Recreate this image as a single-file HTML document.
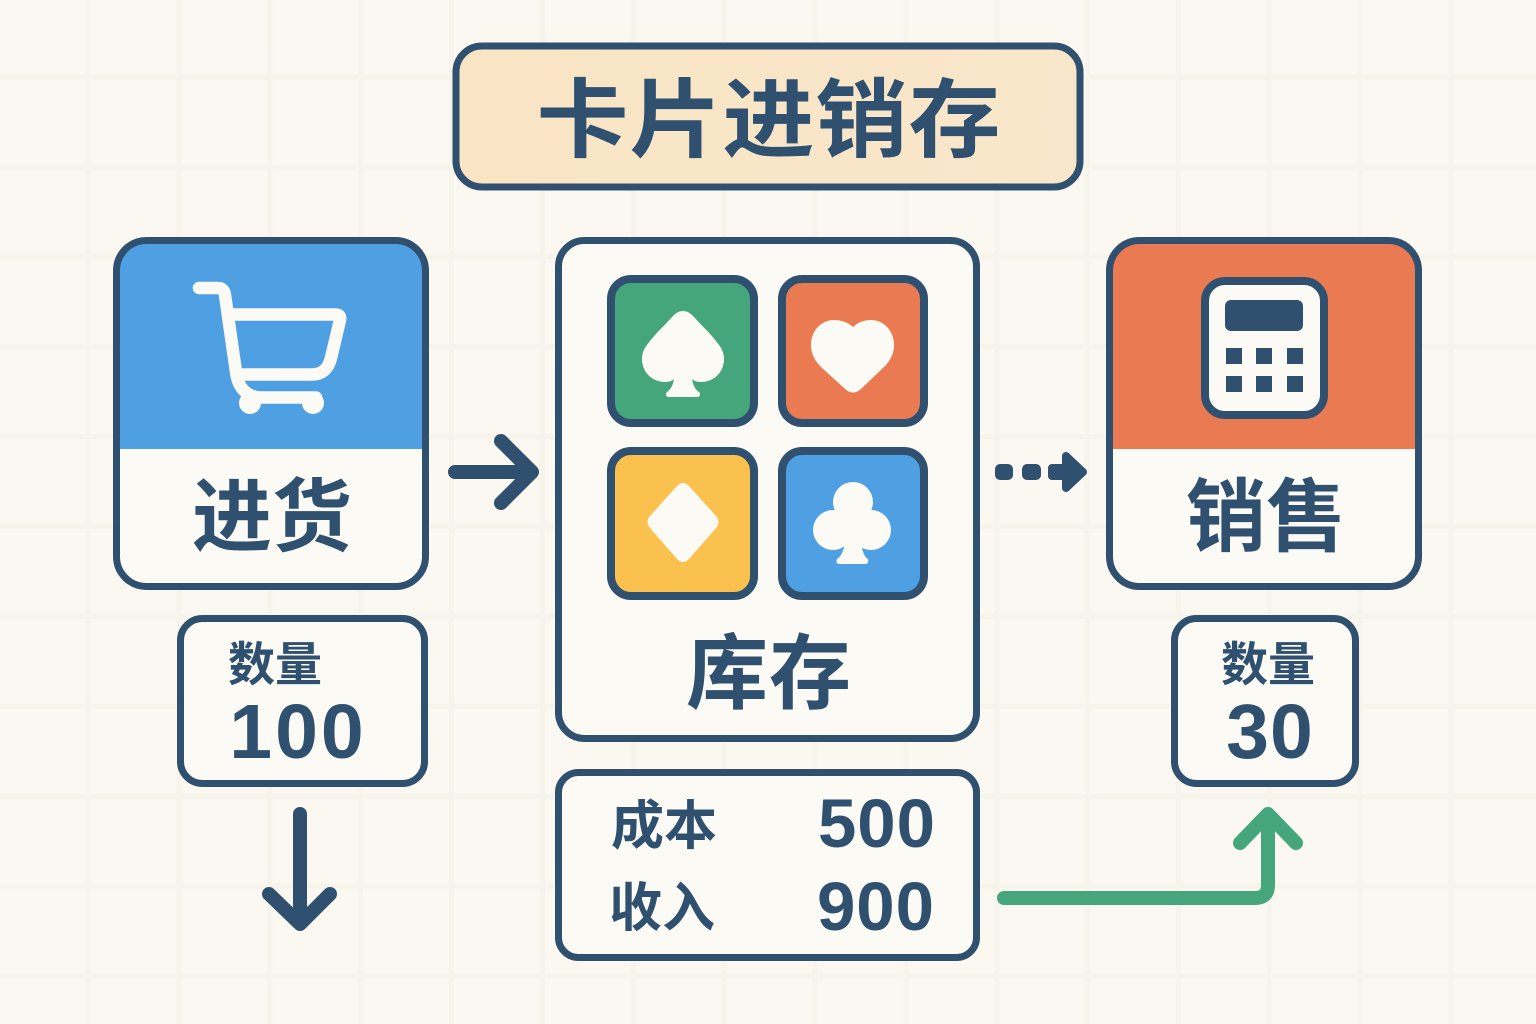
<!DOCTYPE html>
<html lang="zh"><head><meta charset="utf-8"><title>卡片进销存</title>
<style>html,body{margin:0;padding:0;background:#fbf8f1}svg{display:block}
text{font-family:"Liberation Sans","Noto Sans CJK SC",sans-serif;font-weight:700;fill:#30506f;text-anchor:middle}
.n{font-family:"Noto Sans CJK SC","Liberation Sans",sans-serif}</style></head>
<body>
<svg width="1536" height="1024" viewBox="0 0 1536 1024" xmlns="http://www.w3.org/2000/svg">
<defs>
<pattern id="g" x="42.565" y="32.05" width="90.87" height="89.9" patternUnits="userSpaceOnUse">
<path d="M45.435 0V89.9M0 44.95H90.87" stroke="#f7f4eb" stroke-width="5" fill="none"/></pattern>
<linearGradient id="t" x1="0" x2="1" y1="0" y2="0"><stop offset="0" stop-color="#f9e5c4"/><stop offset="1" stop-color="#f9e7cb"/></linearGradient>
<clipPath id="c1"><rect x="116.5" y="240.5" width="309" height="346" rx="30"/></clipPath>
<clipPath id="c2"><rect x="1109.5" y="240.5" width="309" height="346" rx="30"/></clipPath>
</defs>
<rect width="1536" height="1024" fill="#fbf8f1"/>
<rect width="1536" height="1024" fill="url(#g)"/>

<!-- title -->
<rect x="456" y="46" width="624" height="141" rx="26" fill="url(#t)" stroke="#30506f" stroke-width="7"/>
<text class="n" font-size="92" letter-spacing="1" transform="translate(769,150) scale(1,.93)">卡片进销存</text>

<!-- purchase -->
<rect x="116.5" y="240.5" width="309" height="346" rx="30" fill="#fcfaf5"/>
<rect x="113" y="237" width="316" height="212" fill="#4f9fe3" clip-path="url(#c1)"/>
<rect x="116.5" y="240.5" width="309" height="346" rx="30" fill="none" stroke="#30506f" stroke-width="7"/>
<g fill="none" stroke="#fcfaf5" stroke-width="12.500" stroke-linecap="round" stroke-linejoin="round">
<path d="M199 288H218Q224 288 225 295L236 372Q239 395 259 397.500H316"/>
<path d="M229 314.500H336Q341 314.500 340 320L331 358Q327 374.500 312 374.500H238"/>
</g>
<circle cx="250" cy="403" r="11" fill="#fcfaf5"/><circle cx="313" cy="403" r="11" fill="#fcfaf5"/>
<text class="n" x="272" y="545" font-size="80">进货</text>

<rect x="180.500" y="618.500" width="244" height="165" rx="22" fill="#fcfaf5" stroke="#30506f" stroke-width="7"/>
<text class="n" x="275" y="681" font-size="47">数量</text>
<text x="298" y="758" font-size="77" letter-spacing="3">100</text>

<!-- inventory -->
<rect x="558.500" y="240.500" width="418" height="498" rx="26" fill="#fcfaf5" stroke="#30506f" stroke-width="7"/>
<g stroke="#30506f" stroke-width="8">
<rect x="611" y="279" width="143" height="144" rx="20" fill="#45a67c"/>
<rect x="782" y="279" width="142" height="144" rx="20" fill="#e97a52"/>
<rect x="611" y="451" width="143" height="145" rx="20" fill="#fbc14e"/>
<rect x="782" y="451" width="142" height="145" rx="20" fill="#4f9fe3"/>
</g>
<g fill="#fcfaf5">
<path d="M683 311C687 311 690 313 693 316C700 324 710 333 716 341C721 347 724 352 724 359C724 372 714 382 701 382C697 382 694 381 692 379C693 386 696 390 699 392C701 394 700 397 697 397H669C666 397 665 394 667 392C670 390 673 386 674 379C672 381 669 382 665 382C652 382 642 372 642 359C642 352 645 347 650 341C656 333 666 324 673 316C676 313 679 311 683 311Z"/>
<path d="M853 327C858 322 865 320 871 320C884 320 894 331 894 345C894 354 890 361 884 367L862 388C856 394 850 394 844 388L821 367C815 361 811 354 811 345C811 331 821 320 834 320C840 320 848 322 853 327Z"/>
<path d="M677 486Q683 480 689 486L716 516Q721 522 716 528L689 559Q683 565 677 559L650 528Q645 522 650 516Z"/>
<circle cx="853" cy="502" r="20"/><circle cx="833" cy="530" r="20"/><circle cx="871" cy="530" r="20"/>
<path d="M848 510H858L862 548Q864 557 868 559Q869 564 865 564H840Q835 564 837 559Q841 557 844 548Z"/>
</g>
<text class="n" x="769" y="702" font-size="82" letter-spacing="1">库存</text>

<rect x="558.500" y="772.500" width="418" height="185" rx="20" fill="#fcfaf5" stroke="#30506f" stroke-width="7"/>
<text class="n" x="664" y="844" font-size="53">成本</text>
<text x="877" y="847" font-size="69" letter-spacing="1">500</text>
<text class="n" x="662" y="926" font-size="53">收入</text>
<text x="876" y="930" font-size="69" letter-spacing="1">900</text>

<!-- sales -->
<rect x="1109.500" y="240.500" width="309" height="346" rx="30" fill="#fcfaf5"/>
<rect x="1106" y="237" width="316" height="212" fill="#e97a52" clip-path="url(#c2)"/>
<rect x="1109.500" y="240.500" width="309" height="346" rx="30" fill="none" stroke="#30506f" stroke-width="7"/>
<rect x="1205" y="281" width="119" height="134" rx="20" fill="#fcfaf5" stroke="#30506f" stroke-width="8"/>
<rect x="1225" y="300" width="78" height="31" rx="6" fill="#30506f"/>
<g fill="#30506f">
<rect x="1226" y="348" width="16" height="16"/><rect x="1256" y="348" width="16" height="16"/><rect x="1287" y="348" width="16" height="16"/>
<rect x="1226" y="376" width="16" height="16"/><rect x="1256" y="376" width="16" height="16"/><rect x="1287" y="376" width="16" height="16"/>
</g>
<text class="n" x="1266" y="545" font-size="80">销售</text>

<rect x="1174.500" y="618.500" width="181" height="165" rx="22" fill="#fcfaf5" stroke="#30506f" stroke-width="7"/>
<text class="n" x="1268" y="681" font-size="47">数量</text>
<text x="1270" y="758" font-size="77" letter-spacing="1">30</text>

<!-- connectors -->
<g fill="none" stroke-linecap="round" stroke-linejoin="round" stroke-width="14">
<path stroke="#30506f" d="M455 472H530M501 441L532 472L501 503"/>
<path stroke="#30506f" d="M300 814V920M269 894L300 924L330 894"/>
<path stroke="#45a67c" d="M1004 898H1255Q1268 898 1268 885V816M1240 843L1268 814L1296 843"/>
</g>
<g fill="#30506f">
<rect x="995" y="464" width="18" height="16" rx="5"/>
<rect x="1022" y="464" width="19" height="16" rx="5"/>
<rect x="1048" y="464" width="20" height="16" rx="4"/>
<path d="M1066 456L1083 472L1066 488Z" stroke="#30506f" stroke-width="8" stroke-linejoin="round"/>
</g>
</svg>
</body></html>
